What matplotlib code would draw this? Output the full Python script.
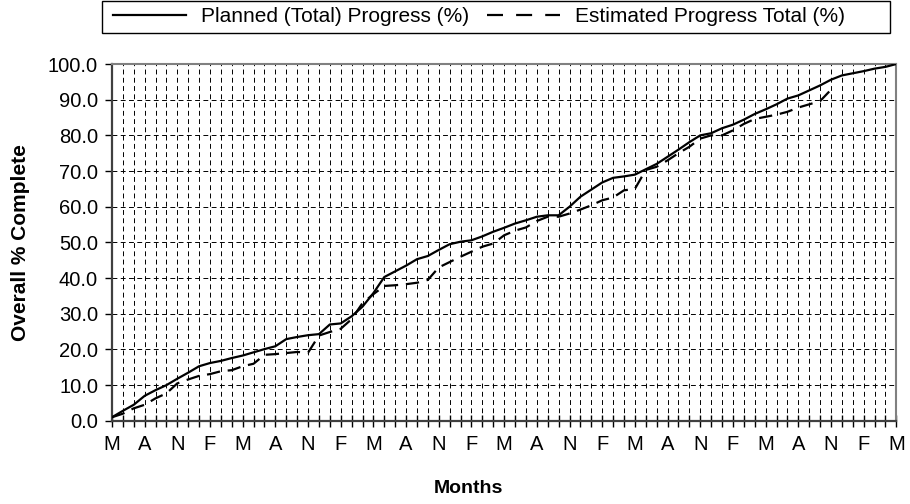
"""Planned vs estimated progress S-curve (Excel-style chart)."""

import matplotlib
matplotlib.use("Agg")
import matplotlib.pyplot as plt
from matplotlib.patches import Rectangle
import numpy as np

plt.rcParams['font.family'] = ['Liberation Sans', 'DejaVu Sans']

# monthly values, month 0 = May
planned = [
    1.0, 2.8, 4.5, 7.0, 8.6, 10.0, 11.8, 13.5, 15.3, 16.2,
    16.8, 17.6, 18.3, 19.2, 20.1, 20.9, 22.9, 23.5, 24.0, 24.3,
    27.0, 27.3, 29.3, 32.0, 35.8, 40.3, 41.9, 43.5, 45.3, 46.2,
    47.9, 49.5, 50.2, 50.6, 51.7, 53.0, 54.1, 55.3, 56.2, 57.2,
    57.6, 57.6, 60.0, 62.8, 64.8, 66.8, 68.1, 68.5, 69.0, 70.5,
    72.0, 74.0, 76.0, 78.1, 80.0, 80.6, 82.0, 83.0, 84.4, 86.0,
    87.3, 88.7, 90.3, 91.2, 92.6, 94.0, 95.6, 96.8, 97.4, 98.0,
    98.7, 99.2, 100.0,
]
estimated = [
    1.0, 2.0, 3.5, 4.5, 6.3, 7.7, 10.5, 11.6, 12.6, 13.1,
    13.9, 14.2, 15.3, 16.0, 18.5, 18.7, 19.0, 19.3, 19.1, 23.9,
    24.9, 25.8, 28.5, 33.0, 35.5, 37.8, 38.0, 38.3, 38.7, 39.5,
    43.0, 44.5, 46.0, 47.4, 48.8, 49.7, 52.0, 53.3, 54.2, 56.0,
    57.2, 57.2, 58.1, 59.2, 60.4, 61.8, 62.6, 64.6, 65.0, 70.3,
    71.2, 73.0, 75.0, 76.8, 79.1, 80.0, 80.0, 81.4, 83.2, 84.6,
    85.2, 85.8, 86.6, 87.8, 88.7, 89.6, 92.8,
]
month_labels = ['M', 'A', 'N', 'F'] * 6 + ['M']

fig = plt.figure(figsize=(9.1, 5.04), dpi=100)
ax = fig.add_axes([0.123, 0.165, 0.862, 0.708])

months = np.arange(len(planned))
ax.plot(months, planned, color='black', lw=1.6, label='Planned (Total) Progress (%)', zorder=3)
ax.plot(np.arange(len(estimated)), estimated, color='black', lw=1.6, dashes=(6, 3.5),
        label='Estimated Progress Total (%)', zorder=3)

ax.set_xlim(0, len(planned) - 1)
ax.set_ylim(0, 100)

# ticks: one per month, label every third month
ax.set_xticks(months)
xt = []
for i in months:
    xt.append(month_labels[i // 3] if i % 3 == 0 else '')
ax.set_xticklabels(xt, fontsize=14.5)
ax.set_yticks(np.arange(0, 101, 10))
ax.set_yticklabels([f'{v:.1f}' for v in np.arange(0, 101, 10)], fontsize=14.5)
ax.tick_params(axis='x', direction='inout', length=8, width=1, pad=6)
ax.tick_params(axis='y', direction='out', length=5, width=1, pad=5)

ax.grid(True, color='black', lw=0.7, linestyle=(0, (5, 3.5)))
ax.set_axisbelow(True)

for s in ['top', 'right']:
    ax.spines[s].set_color('#808080')
    ax.spines[s].set_linewidth(1.5)
for s in ['left', 'bottom']:
    ax.spines[s].set_color('#404040')
    ax.spines[s].set_linewidth(1.6)

ax.set_xlabel('Months', fontsize=14, fontweight='bold')
ax.xaxis.set_label_coords(0.455, -0.165)
ax.set_ylabel('Overall % Complete', fontsize=15, fontweight='bold')
ax.yaxis.set_label_coords(-0.105, 0.5)

# legend entries without frame, box drawn separately (it is wider than its entries)
leg = fig.legend(loc='center', bbox_to_anchor=(0.526, 0.967), ncol=2, fontsize=15,
                 frameon=False, handlelength=3.5,
                 handletextpad=0.72, columnspacing=0.86, borderpad=0.3)
for h in leg.get_lines():
    h.set_linewidth(1.6)
leg.get_lines()[1].set_dashes((7.2, 5.9))
fig.add_artist(Rectangle((102 / 910, 1 - 33 / 504), 788 / 910, 32 / 504,
                         transform=fig.transFigure, facecolor='none',
                         edgecolor='black', lw=1.0))

fig.savefig('out.png', dpi=100)
